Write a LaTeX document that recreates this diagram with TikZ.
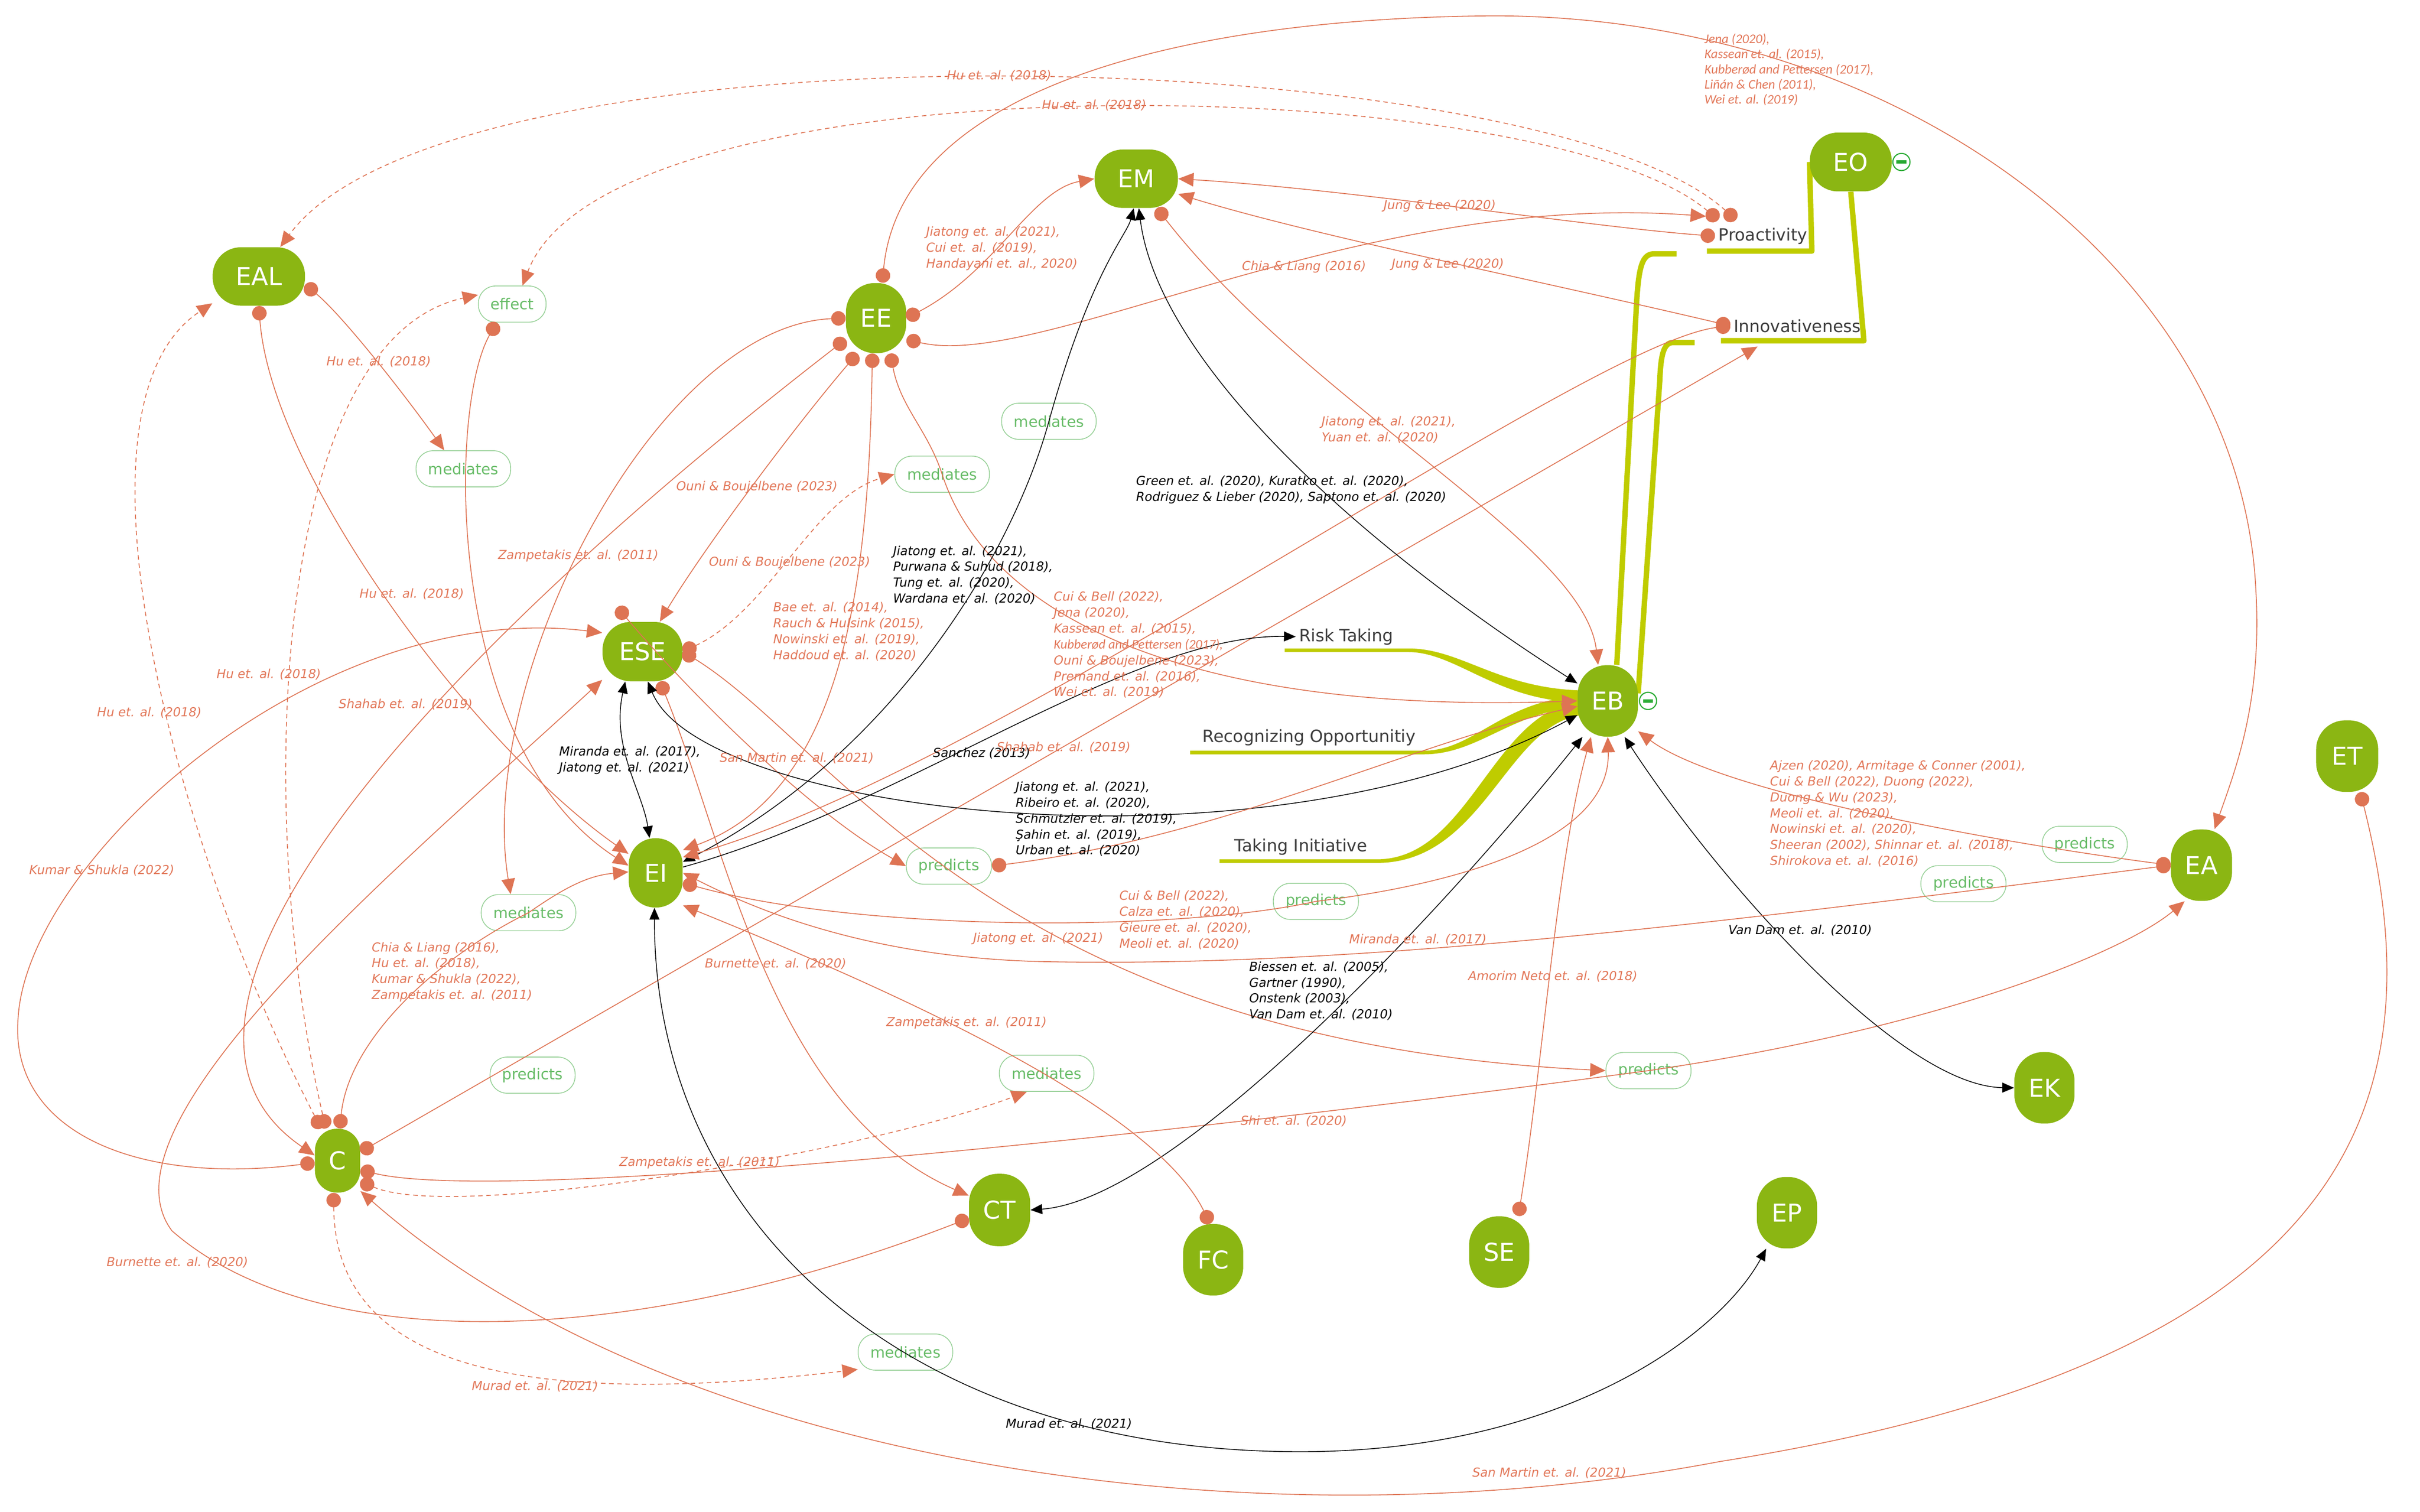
\documentclass[tikz,border=0pt]{standalone}
\usepackage{fontspec}
\setmainfont{DejaVu Sans}
\newfontfamily\carl{Carlito}
\usetikzlibrary{arrows.meta,backgrounds,positioning}
\definecolor{topicgreen}{RGB}{139,182,19}
\definecolor{limbgreen}{RGB}{191,204,0}
\definecolor{relorange}{RGB}{222,116,84}
\definecolor{citeorange}{RGB}{226,120,90}
\definecolor{boxline}{RGB}{150,208,150}
\definecolor{boxtext}{RGB}{104,188,104}
\definecolor{foldgreen}{RGB}{40,170,50}
\definecolor{subgray}{RGB}{60,60,60}
\tikzset{
  topic/.style={fill=topicgreen, text=white, rounded corners=0.6cm, inner sep=0pt,
    font=\fontsize{15.5}{18}\selectfont},
  tall/.style={minimum width=1.33cm, minimum height=1.58cm, rounded corners=0.64cm},
  wide/.style={minimum width=1.84cm, minimum height=1.29cm, rounded corners=0.62cm},
  relbox/.style={draw=boxline, line width=0.5pt, rounded corners=0.38cm, text=boxtext,
    minimum height=0.8cm, inner xsep=0.27cm, font=\fontsize{9.5}{11}\selectfont},
  sub/.style={text=subgray, font=\fontsize{10.6}{12}\selectfont, inner sep=2pt},
  cite/.style={text=citeorange, font=\fontsize{7.8}{10}\selectfont\itshape, align=left,
    anchor=west, inner sep=0pt},
  citeb/.style={cite, text=black},
  citec/.style={cite, font=\carl\fontsize{8.3}{9.5}\selectfont\itshape},
  rel/.style={draw=relorange, line width=0.55pt,
    {Circle[length=0.32cm]}-{Triangle[length=0.34cm,width=0.3cm]}},
  reld/.style={rel, dash pattern=on 0.1cm off 0.08cm},
  oneway/.style={draw=black, line width=0.5pt, -{Triangle[length=0.26cm,width=0.22cm]}},
  twoway/.style={oneway, {Triangle[length=0.26cm,width=0.22cm]}-{Triangle[length=0.26cm,width=0.22cm]}},
  limb/.style={draw=limbgreen, line width=3.4pt, line join=round},
  fold/.style={circle, draw=foldgreen, fill=white, line width=0.7pt, minimum size=0.38cm,
    inner sep=0pt, path picture={\draw[foldgreen, line width=2.2pt]
      ([xshift=0.08cm]path picture bounding box.west) --
      ([xshift=-0.08cm]path picture bounding box.east);}}
}
\begin{document}
\begin{tikzpicture}[x=1cm, y=-1cm]
\useasboundingbox (0,0) rectangle (53.48,33.41);

\node[topic,wide,minimum width=2.04cm] (EAL) at (5.72,6.11) {EAL};
\node[topic,tall,minimum height=1.55cm] (EE) at (19.36,7.03) {EE};
\node[topic,wide] (EM) at (25.11,3.95) {EM};
\node[topic,wide,minimum width=1.81cm,minimum height=1.30cm] (EO) at (40.90,3.58) {EO};
\node[topic,wide,minimum width=1.77cm,minimum height=1.31cm] (ESE) at (14.20,14.40) {ESE};
\node[topic,tall,minimum width=1.19cm,minimum height=1.53cm,rounded corners=0.58cm] (EI) at (14.49,19.29) {EI};
\node[topic,tall] (EB) at (35.53,15.49) {EB};
\node[topic,tall,minimum width=1.37cm] (ET) at (51.87,16.71) {ET};
\node[topic,tall,minimum width=1.35cm] (EA) at (48.65,19.12) {EA};
\node[topic,tall] (EK) at (45.18,24.04) {EK};
\node[topic,tall] (EP) at (39.49,26.80) {EP};
\node[topic,tall,minimum width=1.35cm,minimum height=1.60cm] (CT) at (22.09,26.74) {CT};
\node[topic,tall] (FC) at (26.81,27.84) {FC};
\node[topic,tall] (SE) at (33.13,27.67) {SE};
\node[topic,minimum width=1.0cm,minimum height=1.41cm,rounded corners=0.48cm] (C) at (7.46,25.65) {C};
\node[fold] (EOfold) at (42.02,3.58) {};
\node[fold] (EBfold) at (36.42,15.49) {};

\node[relbox] (eff) at (11.32,6.72) {effect};
\node[relbox] (medA) at (10.24,10.36) {mediates};
\node[relbox] (medB) at (20.82,10.48) {mediates};
\node[relbox] (medC) at (23.18,9.31) {mediates};
\node[relbox] (medD) at (11.68,20.17) {mediates};
\node[relbox] (medE) at (23.13,23.72) {mediates};
\node[relbox] (medF) at (20.01,29.88) {mediates};
\node[relbox] (preA) at (20.97,19.14) {predicts};
\node[relbox] (preB) at (29.08,19.92) {predicts};
\node[relbox] (preC) at (46.07,18.66) {predicts};
\node[relbox] (preD) at (43.39,19.53) {predicts};
\node[relbox] (preE) at (11.77,23.76) {predicts};
\node[relbox] (preF) at (36.43,23.66) {predicts};

\node[sub] (Pro) at (38.96,5.22) {Proactivity};
\node[sub] (Inn) at (39.72,7.20) {Innovativeness};
\node[sub] (Risk) at (29.75,14.07) {Risk Taking};
\node[sub] (Rec) at (28.93,16.30) {Recognizing Opportunitiy};
\node[sub] (Tak) at (28.75,18.72) {Taking Initiative};

\coordinate (proDotA) at (37.97,4.86);
\coordinate (proDotB) at (38.36,4.86);
\coordinate (proIn) at (37.70,4.78);
\coordinate (innIn) at (38.84,7.66);
\coordinate (eseTop) at (13.64,13.42);

\begin{scope}[on background layer]
\draw[limb] (EO.west) -- (40.04,5.55) -- (37.72,5.55);
\draw[limb] (37.05,5.61) -- (36.55,5.61) .. controls (36.25,5.61) and (36.20,6.00) .. (36.15,7.00) -- (EB.76);
\draw[limb] (EO.south) -- (41.19,7.53) -- (38.03,7.53);
\draw[limb] (37.45,7.57) -- (36.97,7.57) .. controls (36.75,7.57) and (36.70,7.90) .. (36.68,8.40) -- (EB.14);
\fill[limbgreen] (28.39,14.33) -- (31.12,14.33) .. controls (32.30,14.33) and (33.10,15.22) .. (35.00,15.26)
  -- (35.00,15.52) .. controls (33.10,15.52) and (32.20,14.41) .. (31.12,14.41) -- (28.39,14.41) -- cycle;
\fill[limbgreen] (26.30,16.59) -- (31.46,16.59) .. controls (32.60,16.59) and (33.20,15.45) .. (35.00,15.38)
  -- (35.00,15.62) .. controls (33.40,15.70) and (32.70,16.67) .. (31.46,16.67) -- (26.30,16.67) -- cycle;
\fill[limbgreen] (26.95,18.99) -- (30.43,18.99) .. controls (32.50,18.99) and (33.00,15.62) .. (35.00,15.50)
  -- (35.00,15.80) .. controls (33.30,15.95) and (32.80,19.07) .. (30.43,19.07) -- (26.95,19.07) -- cycle;
\end{scope}

\draw[reld] (proDotB) .. controls (34.00,0.90) and (10.00,0.30) .. (EAL.54);
\draw[reld] (proDotA) .. controls (34.00,1.50) and (13.50,1.20) .. (eff.61);
\draw[rel] (EAL.-10) .. controls (7.60,7.00) and (9.00,8.80) .. (medA.136);
\draw[rel] (EAL.-90) .. controls (6.00,10.50) and (10.50,16.50) .. (EI.145);
\draw[rel] (eff.-130) .. controls (9.90,9.00) and (9.80,16.50) .. (EI.165);
\draw[reld] (C.117) .. controls (4.00,19.00) and (1.20,9.00) .. (EAL.-150);
\draw[reld] (C.110) .. controls (5.60,18.00) and (6.00,7.50) .. (eff.165);
\draw[rel] (C.185) .. controls (3.00,26.20) and (0.20,25.00) .. (0.40,22.50)
  .. controls (0.60,19.00) and (7.00,13.20) .. (ESE.155);
\draw[rel] (C.86) .. controls (7.70,23.00) and (9.60,21.20) .. (medD.center)
  .. controls (12.50,19.60) and (13.00,19.35) .. (EI.178);
\draw[rel] (C.21) -- (innIn);
\draw[rel] (C.-22) .. controls (11.00,26.60) and (25.00,25.20) .. (preF.center)
  .. controls (43.00,22.70) and (47.00,21.00) .. (EA.-115);
\draw[reld] (C.-42) .. controls (10.00,27.00) and (19.00,25.50) .. (medE.-137);
\draw[reld] (C.-97) .. controls (7.40,30.00) and (11.00,31.20) .. (medF.-160);
\draw[rel] (CT.-165) .. controls (14.00,29.80) and (7.00,30.00) .. (3.80,27.20)
  .. controls (2.00,24.80) and (9.00,19.00) .. (ESE.-145);
\draw[rel] (ESE.-60) .. controls (16.00,18.50) and (17.00,24.50) .. (CT.155);
\draw[rel] (eseTop) .. controls (15.50,15.60) and (18.00,18.00) .. (preA.west);
\draw[reld] (ESE.east) .. controls (17.00,13.50) and (18.00,11.00) .. (medB.west);
\draw[rel] (ESE.east) .. controls (18.50,16.50) and (22.00,23.00) .. (preF.west);
\draw[rel] (EE.-118) .. controls (17.50,9.50) and (15.50,12.20) .. (ESE.60);
\draw[rel] (EE.-96) .. controls (19.20,13.00) and (18.60,17.50) .. (EI.40);
\draw[rel] (EE.180) .. controls (14.50,7.20) and (10.50,15.00) .. (medD.134);
\draw[rel] (EE.-145) .. controls (9.00,15.00) and (2.50,22.50) .. (C.167);
\draw[rel] (EE.0) .. controls (22.00,6.00) and (22.80,4.20) .. (EM.west);
\draw[rel] (EE.-35) .. controls (23.00,8.20) and (30.00,4.20) .. (proIn);
\draw[rel] (EE.80) .. controls (19.90,2.00) and (26.00,0.40) .. (33.00,0.35)
  .. controls (42.00,0.35) and (49.50,6.00) .. (49.85,13.00)
  .. controls (50.00,15.50) and (49.40,17.00) .. (EA.70);
\draw[rel] (EE.-68) .. controls (19.90,9.00) and (20.50,9.50) .. (medB.center)
  .. controls (21.80,13.50) and (26.00,15.80) .. (EB.west);
\draw[rel] (EM.-55) .. controls (29.00,9.00) and (35.00,12.00) .. (EB.105);
\draw[twoway] (EM.-85) .. controls (25.60,8.00) and (30.00,12.00) .. (EB.150);
\draw[twoway] (EI.22) .. controls (19.50,16.80) and (22.30,12.50) .. (medC.center)
  .. controls (24.10,6.00) and (24.90,5.20) .. (EM.-95);
\draw[oneway] (EI.12) .. controls (20.00,17.80) and (25.00,14.00) .. (Risk.west);
\draw[twoway] (ESE.-80) .. controls (15.50,18.00) and (28.00,19.50) .. (EB.205);
\draw[twoway] (ESE.-120) .. controls (13.50,16.50) and (14.20,17.50) .. (EI.100);
\draw[twoway] (EI.-92) .. controls (14.45,27.00) and (20.00,32.00) .. (28.50,32.08)
  .. controls (34.50,32.15) and (38.00,29.50) .. (EP.-120);
\draw[twoway] (EB.235) .. controls (32.00,20.00) and (26.00,26.50) .. (CT.east);
\draw[twoway] (EB.-65) .. controls (38.00,19.50) and (42.00,24.00) .. (EK.west);
\draw[rel] (EA.180) .. controls (44.00,18.60) and (38.00,17.50) .. (EB.-45);
\draw[rel] (EA.180) .. controls (38.00,20.40) and (30.00,21.40) .. (23.00,21.25)
  .. controls (19.00,21.15) and (16.50,20.00) .. (EI.0);
\draw[rel] (EI.-20) .. controls (19.00,20.60) and (26.00,20.60) .. (preB.center)
  .. controls (32.50,19.50) and (35.60,18.50) .. (EB.-90);
\draw[rel] (preA.east) .. controls (27.00,18.50) and (31.00,16.50) .. (EB.190);
\draw[rel] (SE.62) .. controls (34.10,23.50) and (34.40,19.00) .. (EB.-115);
\draw[rel] (FC.95) .. controls (25.50,24.50) and (20.00,22.00) .. (EI.-50);
\draw[rel] (ET.-70) .. controls (53.80,24.00) and (52.50,30.00) .. (38.00,32.30)
  .. controls (28.00,34.20) and (15.00,32.50) .. (C.-53);
\draw[rel] (Pro.west) .. controls (35.00,5.00) and (30.00,4.20) .. (EM.east);
\draw[rel] (Inn.west) .. controls (34.00,6.20) and (29.00,5.20) .. (EM.-20);
\draw[rel] (Inn.west) .. controls (35.00,7.60) and (22.00,17.00) .. (EI.30);

\node[cite] (c1) at (20.92,1.67) {Hu et. al. (2018)};
\node[cite] (c2) at (23.02,2.33) {Hu et. al. (2018)};
\node[cite] (c3) at (7.21,8.00) {Hu et. al. (2018)};
\node[cite] (c4) at (7.94,13.13) {Hu et. al. (2018)};
\node[cite] (c5) at (4.78,14.90) {Hu et. al. (2018)};
\node[cite] (c6) at (2.14,15.75) {Hu et. al. (2018)};
\node[cite] (c7) at (0.64,19.24) {Kumar \& Shukla (2022)};
\node[cite] (c8) at (8.21,21.48) {Chia \& Liang (2016),\\Hu et. al. (2018),\\Kumar \& Shukla (2022),\\Zampetakis et. al. (2011)};
\node[cite] (c9) at (11.00,12.28) {Zampetakis et. al. (2011)};
\node[cite] (c10) at (7.48,15.57) {Shahab et. al. (2019)};
\node[cite] (c11) at (14.94,10.76) {Ouni \& Boujelbene (2023)};
\node[cite] (c12) at (15.66,12.43) {Ouni \& Boujelbene (2023)};
\node[cite] (c13) at (17.08,13.96) {Bae et. al. (2014),\\Rauch \& Hulsink (2015),\\Nowinski et. al. (2019),\\Haddoud et. al. (2020)};
\node[citeb] (c14) at (12.35,16.80) {Miranda et. al. (2017),\\Jiatong et. al. (2021)};
\node[cite] (c15) at (15.90,16.76) {San Martin et. al. (2021)};
\node[cite] (c16) at (15.57,21.30) {Burnette et. al. (2020)};
\node[cite] (c17) at (2.35,27.90) {Burnette et. al. (2020)};
\node[cite] (c18) at (13.68,25.70) {Zampetakis et. al. (2011)};
\node[cite] (c19) at (10.42,30.64) {Murad et. al. (2021)};
\node[cite] (c20) at (19.58,22.60) {Zampetakis et. al. (2011)};
\node[cite] (c21) at (27.41,24.78) {Shi et. al. (2020)};
\node[citeb] (c22) at (22.22,31.47) {Murad et. al. (2021)};
\node[cite] (c23) at (32.53,32.55) {San Martin et. al. (2021)};
\node[cite] (c24) at (20.46,5.49) {Jiatong et. al. (2021),\\Cui et. al. (2019),\\Handayani et. al., 2020)};
\node[cite] (c25) at (27.44,5.90) {Chia \& Liang (2016)};
\node[cite] (c26) at (30.57,4.55) {Jung \& Lee (2020)};
\node[cite] (c27) at (30.75,5.85) {Jung \& Lee (2020)};
\node[cite] (c28) at (29.20,9.50) {Jiatong et. al. (2021),\\Yuan et. al. (2020)};
\node[citeb] (c29) at (25.10,10.82) {Green et. al. (2020), Kuratko et. al. (2020),\\Rodriguez \& Lieber (2020), Saptono et. al. (2020)};
\node[citeb] (c30) at (19.73,12.71) {Jiatong et. al. (2021),\\Purwana \& Suhud (2018),\\Tung et. al. (2020),\\Wardana et. al. (2020)};
\node[cite] (c31) at (23.28,14.25) {Cui \& Bell (2022),\\Jena (2020),\\Kassean et. al. (2015),\\{\carl\fontsize{8.3}{10}\selectfont Kubberød and Pettersen (2017),}\\Ouni \& Boujelbene (2023),\\Premand et. al. (2016),\\Wei et. al. (2019)};
\node[citeb] (c32) at (20.61,16.65) {Sanchez (2013)};
\node[cite] (c33) at (22.02,16.52) {Shahab et. al. (2019)};
\node[citeb] (c34) at (22.44,18.10) {Jiatong et. al. (2021),\\Ribeiro et. al. (2020),\\Schmutzler et. al. (2019),\\Şahin et. al. (2019),\\Urban et. al. (2020)};
\node[cite] (c35) at (24.73,20.33) {Cui \& Bell (2022),\\Calza et. al. (2020),\\Gieure et. al. (2020),\\Meoli et. al. (2020)};
\node[cite] (c36) at (21.50,20.74) {Jiatong et. al. (2021)};
\node[cite] (c37) at (29.81,20.77) {Miranda et. al. (2017)};
\node[citeb] (c38) at (27.60,21.90) {Biessen et. al. (2005),\\Gartner (1990),\\Onstenk (2003),\\Van Dam et. al. (2010)};
\node[cite] (c39) at (32.44,21.58) {Amorim Neto et. al. (2018)};
\node[cite] (c40) at (39.11,17.98) {Ajzen (2020), Armitage \& Conner (2001),\\Cui \& Bell (2022), Duong (2022),\\Duong \& Wu (2023),\\Meoli et. al. (2020),\\Nowinski et. al. (2020),\\Sheeran (2002), Shinnar et. al. (2018),\\Shirokova et. al. (2016)};
\node[citeb] (c41) at (38.19,20.56) {Van Dam et. al. (2010)};
\node[citec] (c42) at (37.66,1.54) {Jena (2020),\\Kassean et. al. (2015),\\Kubberød and Pettersen (2017),\\Liñán \& Chen (2011),\\Wei et. al. (2019)};
\end{tikzpicture}
\end{document}
